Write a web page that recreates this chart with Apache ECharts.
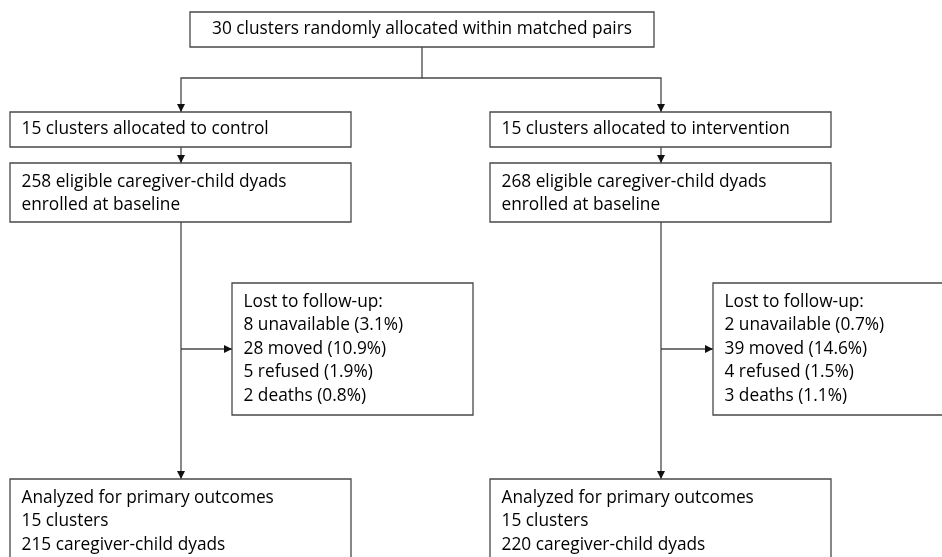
<!DOCTYPE html>
<html>
<head>
<meta charset="utf-8">
<script src="https://cdn.jsdelivr.net/npm/echarts@6/dist/echarts.min.js"></script>
<style>
  html, body { margin: 0; padding: 0; background: #fff; }
  #chart { width: 942px; height: 557px; }
</style>
</head>
<body>
<div id="chart"></div>
<script>
// trial numbers
const totalClusters = 30
const armNames = ['control', 'intervention']
const armClusters = [15, 15]
const enrolledDyads = [258, 268]
const lostReasons = ['unavailable', 'moved', 'refused', 'deaths']
const lostControl = [8, 28, 5, 2]
const lostControlPct = [3.1, 10.9, 1.9, 0.8]
const lostIntervention = [2, 39, 4, 3]
const lostInterventionPct = [0.7, 14.6, 1.5, 1.1]
const analyzedClusters = [15, 15]
const analyzedDyads = [215, 220]

const lostCounts = [lostControl, lostIntervention]
const lostPct = [lostControlPct, lostInterventionPct]

// box texts
const boxLines = [
  [totalClusters + ' clusters randomly allocated within matched pairs']
]
armNames.forEach(function (name, i) {
  boxLines.push([armClusters[i] + ' clusters allocated to ' + name])
  boxLines.push([enrolledDyads[i] + ' eligible caregiver-child dyads', 'enrolled at baseline'])
  boxLines.push(['Lost to follow-up:'].concat(lostReasons.map(function (r, k) {
    return lostCounts[i][k] + ' ' + r + ' (' + lostPct[i][k].toFixed(1) + '%)'
  })))
  boxLines.push(['Analyzed for primary outcomes', analyzedClusters[i] + ' clusters', analyzedDyads[i] + ' caregiver-child dyads'])
})

// layout in page units (x right, y down)
const boxLayout = [
  { x0: 190, y0: 12, x1: 654, y1: 47, align: 'center' },
  { x0: 10, y0: 112, x1: 351, y1: 147 },
  { x0: 10, y0: 163, x1: 351, y1: 222 },
  { x0: 232, y0: 283, x1: 473, y1: 415 },
  { x0: 10, y0: 479, x1: 351, y1: 590 },
  { x0: 490, y0: 112, x1: 831, y1: 147 },
  { x0: 490, y0: 163, x1: 831, y1: 222 },
  { x0: 713, y0: 283, x1: 950, y1: 415 },
  { x0: 490, y0: 479, x1: 831, y1: 590 }
]

const connectors = [
  { pts: [[422, 47], [422, 78], [181, 78], [181, 112]], arrow: true },
  { pts: [[422, 78], [661, 78], [661, 112]], arrow: true },
  { pts: [[181, 147], [181, 163]], arrow: true },
  { pts: [[661, 147], [661, 163]], arrow: true },
  { pts: [[181, 222], [181, 479]], arrow: true },
  { pts: [[661, 222], [661, 479]], arrow: true },
  { pts: [[181, 349], [232, 349]], arrow: true },
  { pts: [[661, 349], [713, 349]], arrow: true }
]

const lineColor = '#484848'
const textColor = '#000'
const fontFamily = '"Open Sans", Lato, sans-serif'

// fit font size so the top line has the same width as in the figure
const ctx = document.createElement('canvas').getContext('2d')
ctx.font = '20px ' + fontFamily
const fontSize = Math.round(20 * 421 / ctx.measureText(boxLines[0][0]).width * 10) / 10
const lineH = 23.4

const chart = echarts.init(document.getElementById('chart'))

chart.setOption({
  animation: false,
  grid: { left: 0, right: 0, top: 0, bottom: 0 },
  xAxis: { type: 'value', min: 0, max: 942, show: false },
  yAxis: { type: 'value', min: 0, max: 557, inverse: true, show: false },
  series: [
    {
      type: 'custom',
      name: 'connectors',
      data: connectors.map(function (c, i) { return [i, 0] }),
      renderItem: function (params, api) {
        const c = connectors[params.dataIndex]
        const p = c.pts.map(function (pt) { return api.coord(pt) })
        const children = [{
          type: 'polyline',
          shape: { points: p },
          style: { stroke: lineColor, lineWidth: 1.3, fill: null }
        }]
        if (c.arrow) {
          const a = p[p.length - 2], b = p[p.length - 1]
          const len = Math.hypot(b[0] - a[0], b[1] - a[1])
          const ux = (b[0] - a[0]) / len, uy = (b[1] - a[1]) / len
          const L = 8, W = 4
          children.push({
            type: 'polygon',
            shape: { points: [
              b,
              [b[0] - ux * L - uy * W, b[1] - uy * L + ux * W],
              [b[0] - ux * L + uy * W, b[1] - uy * L - ux * W]
            ] },
            style: { fill: '#111' }
          })
        }
        return { type: 'group', children: children }
      }
    },
    {
      type: 'custom',
      name: 'boxes',
      data: boxLayout.map(function (b, i) { return [i, 0] }),
      renderItem: function (params, api) {
        const b = boxLayout[params.dataIndex]
        const lines = boxLines[params.dataIndex]
        const p0 = api.coord([b.x0, b.y0])
        const p1 = api.coord([b.x1, b.y1])
        const h = p1[1] - p0[1]
        const single = lines.length === 1
        const ty = single ? p0[1] + h / 2 : p0[1] + 19 - lineH / 2
        return {
          type: 'group',
          children: [
            {
              type: 'rect',
              shape: { x: p0[0], y: p0[1], width: p1[0] - p0[0], height: h },
              style: { fill: '#fff', stroke: lineColor, lineWidth: 1.3 }
            },
            {
              type: 'text',
              x: b.align === 'center' ? (p0[0] + p1[0]) / 2 : p0[0] + 11.5,
              y: ty,
              style: {
                text: lines.join('\n'),
                fill: textColor,
                font: fontSize + 'px ' + fontFamily,
                lineHeight: lineH,
                align: b.align === 'center' ? 'center' : 'left',
                verticalAlign: single ? 'middle' : 'top'
              }
            }
          ]
        }
      }
    }
  ]
})
</script>
</body>
</html>
